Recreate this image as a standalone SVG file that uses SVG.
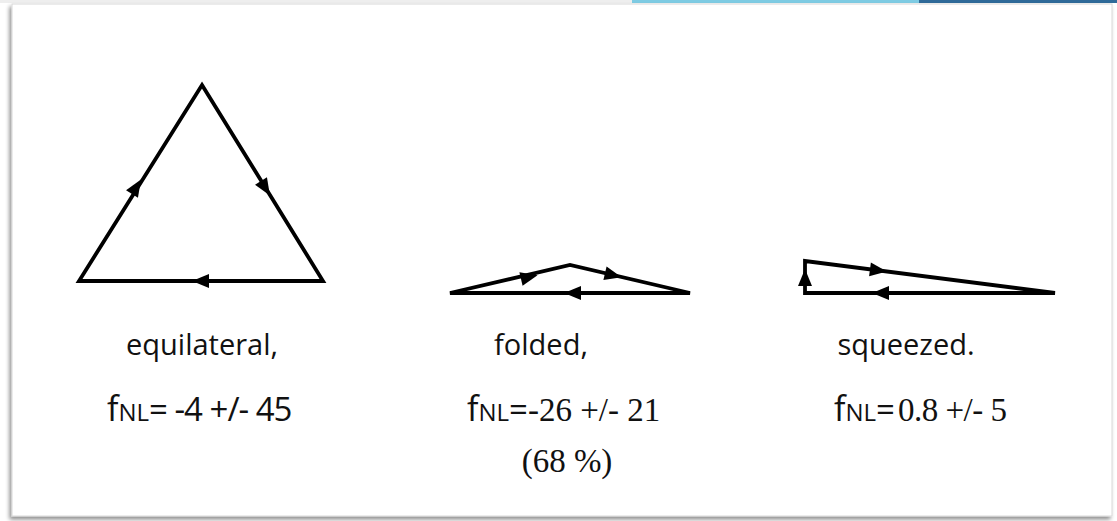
<svg xmlns="http://www.w3.org/2000/svg" width="1117" height="521" viewBox="0 0 1117 521">
<defs>
<filter id="sh" x="-5%" y="-5%" width="110%" height="110%">
<feGaussianBlur in="SourceAlpha" stdDeviation="2"/>
<feOffset dx="-2" dy="3"/>
<feComponentTransfer><feFuncA type="linear" slope="0.45"/></feComponentTransfer>
<feMerge><feMergeNode/><feMergeNode in="SourceGraphic"/></feMerge>
</filter>
</defs>
<style>
.edge{fill:none;stroke:#000;stroke-width:3.8;stroke-linejoin:miter}
.arr{fill:#000}
.cap{font-family:"Open Sans","Noto Sans",sans-serif;font-size:29px;fill:#111}
.f{font-family:"Open Sans","Noto Sans",sans-serif;fill:#111}
.num{font-family:"Liberation Serif",serif;font-size:33px;fill:#111}
</style>
<rect x="0" y="0" width="1117" height="521" fill="#fff"/>
<rect x="0" y="0" width="632" height="3" fill="#eeeeee"/>
<rect x="632" y="0" width="287" height="3" fill="#7ecbe3"/>
<rect x="919" y="0" width="198" height="3" fill="#2f6a99"/>
<rect x="12" y="4" width="1100" height="512" fill="#fff" stroke="#d8d8d8" stroke-width="1" filter="url(#sh)"/>

<g id="connectors">
<g id="equilateral-shape">
<path class="edge" d="M202,85 L323,281 L79,281 Z"/>
<path class="arr" d="M0,-7 L17,0 L0,7 Z" transform="translate(132,194) rotate(-58.1)"/>
<path class="arr" d="M0,-7 L17,0 L0,7 Z" transform="translate(261,181) rotate(58.3)"/>
<path class="arr" d="M0,-7 L17,0 L0,7 Z" transform="translate(209,281) rotate(180)"/>
</g>
<g id="folded-shape">
<path class="edge" d="M450,293 L570,265 L690,293 Z"/>
<path class="arr" d="M0,-7 L17,0 L0,7 Z" transform="translate(521,279) rotate(-13.1)"/>
<path class="arr" d="M0,-7 L17,0 L0,7 Z" transform="translate(605,273.3) rotate(13.1)"/>
<path class="arr" d="M0,-7 L17,0 L0,7 Z" transform="translate(581,293) rotate(180)"/>
</g>
<g id="squeezed-shape">
<path class="edge" d="M805,293 L805,261 L1055,293 Z"/>
<path class="arr" d="M0,-7 L17,0 L0,7 Z" transform="translate(805,286) rotate(-90)"/>
<path class="arr" d="M0,-7 L17,0 L0,7 Z" transform="translate(870,269.4) rotate(7.3)"/>
<path class="arr" d="M0,-7 L17,0 L0,7 Z" transform="translate(889,293) rotate(180)"/>
</g>
</g>

<g id="node-equilateral">
<text class="cap" x="202" y="355" text-anchor="middle">equilateral,</text>
<text x="107" y="421"><tspan class="f" font-size="34">f</tspan><tspan class="f" font-size="24">NL</tspan><tspan class="f" font-size="33" letter-spacing="-1">= -4 +/- 45</tspan></text>
</g>
<g id="node-folded">
<text class="cap" x="541" y="355" text-anchor="middle">folded,</text>
<text x="467" y="421"><tspan class="f" font-size="34">f</tspan><tspan class="f" font-size="24">NL</tspan><tspan class="f" font-size="33">=</tspan><tspan class="num">-26 +/- 21</tspan></text>
<text class="num" x="567" y="472" text-anchor="middle">(68 %)</text>
</g>
<g id="node-squeezed">
<text class="cap" x="906" y="355" text-anchor="middle">squeezed.</text>
<text x="834" y="421"><tspan class="f" font-size="34">f</tspan><tspan class="f" font-size="24">NL</tspan><tspan class="f" font-size="33">=</tspan><tspan class="num" dx="3" letter-spacing="-0.5">0.8 +/- 5</tspan></text>
</g>
</svg>
